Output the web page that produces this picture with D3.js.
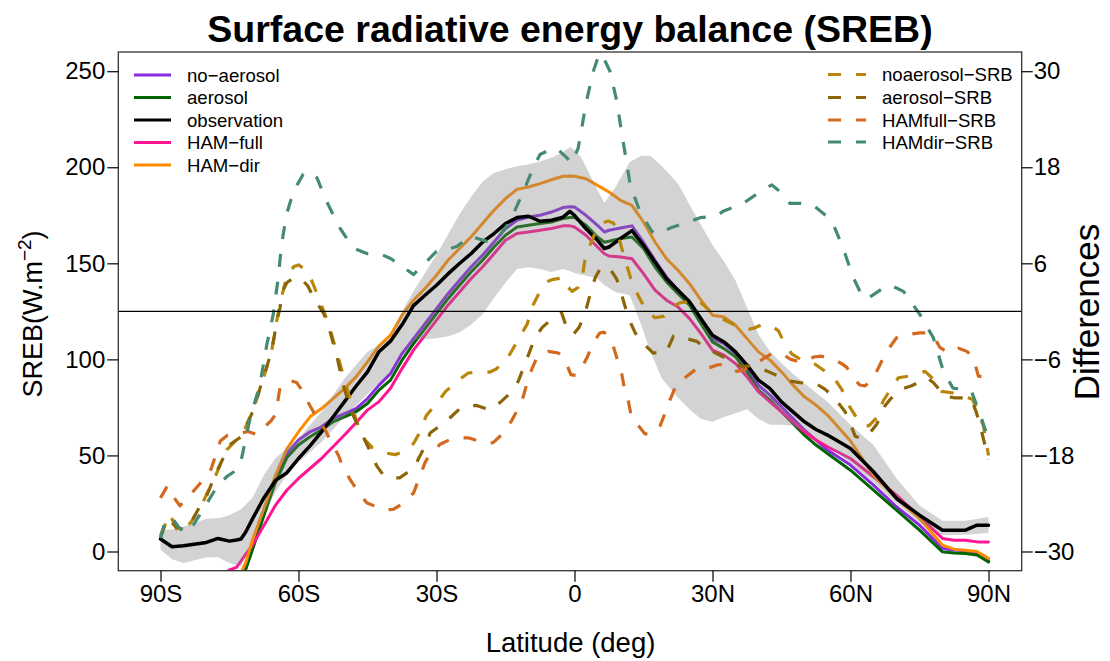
<!DOCTYPE html>
<html><head><meta charset="utf-8">
<script src="https://cdn.jsdelivr.net/npm/d3@7"></script>
<style>html,body{margin:0;padding:0;background:#fff;}svg{display:block;}</style>
</head><body><svg id="c" width="1110" height="661"></svg>
<script>
// ---------------- DATA ----------------
const xTickValues = [-90,-60,-30,0,30,60,90];
const xTickLabels = ["90S","60S","30S","0","30N","60N","90N"];
const yLeftTicks = [0,50,100,150,200,250];
const yRightTicks = [-30,-18,-6,6,18,30];

const latS = [
 -90,-87.5,-85,-80,-77.5,-75,-73.5,-72.5,-71.5,-70,
 -67.5,-65,-62.5,-60,-57.5,-55,-52.5,-50,-47.5,-45,
 -42.5,-40,-37.5,-35,-32.5,-30,-27.5,-25,-22.5,-20,
 -17.5,-15,-12.5,-10,-7.5,-5,-2.5,-1,0,2.5,
 5,6.5,7.5,10,12.5,15,17.5,20,22.5,25,
 27.5,30,32.5,35,37.5,40,42.5,45,47.5,50,
 52.5,55,60,65,70,75,80,82.5,85,87.5,
 90];

const noAerosol = [
 -50,-50,-45,-35,-30,-22,-16,-13,-9,1.6,
 19.8,37,51,58,62.3,64.9,69.2,71.8,74.4,79.6,
 86.6,92.6,103,110.8,118.6,126.4,134.2,141.2,148.1,154.2,
 161.1,168,172.4,174.1,175,176.7,179,179.5,179.3,175,
 169.8,166.3,167.2,168.4,169.5,161,151.6,142.9,136,129,
 119.5,110.8,108.2,103,95.2,86.6,81.4,75.3,69.2,63.2,
 58,52.8,45,34.5,23.3,13.7,1.6,0.8,0.4,-0.5,
 -4.5];
const aerosol = [
 -50,-50,-45,-35,-30,-22,-16,-13,-9.5,1,
 19,36,49,55.4,59.7,63.2,67.5,70.1,72.7,77,
 84,89.2,99.6,108.2,116,123.8,131.6,138.6,145.5,151.6,
 158.5,164.6,168.9,169.8,170.7,171.5,173.3,173.8,173.8,169.8,
 163.7,161,161.5,162.9,163.7,157.7,148.1,140.3,134.2,128.2,
 118.6,109.1,105.6,101.3,93.5,84,78.8,72.7,66.6,60.6,
 55.4,51,42.3,32,21.5,11.1,-0.2,-0.8,-1,-1.8,
 -5.4];
const observation = [
 6.5,2.5,3,4.7,6.8,5.4,6,6.5,10,17,
 28,37,41,48.4,55,62.3,70,78,86,93.5,
 104,109.5,118,128,133.4,138.6,144.5,149.9,155,161,
 165.5,170.7,173.8,174.5,171.9,172.4,174,177,175,168,
 162,157.7,158.5,162.9,167,159.4,150.7,142,136,130,
 121.2,112.6,109.1,103.9,97,89.2,84.8,77.9,72.7,67.5,
 63.5,60.6,53.6,41.5,27.6,18.9,11.1,11,11.1,13.7,
 13.7];
const hamFull = [
 -40,-38,-35,-25,-14,-9.6,-8.3,-5,-1.5,3.3,
 13.7,24.1,32,38,43.2,48.4,54.5,60.6,67,73.6,
 78,85,95.2,104.8,112.6,120.4,128.2,135.1,142,148.1,
 155,162,165.5,166.3,167.2,168.1,169.5,169.5,168.9,164.6,
 158.5,155,153.8,153.3,152.4,144.6,136,130.8,127.3,121.2,
 113.4,104.8,102.2,97.8,90.9,83.1,77.9,72.7,67.5,62.3,
 58,54.5,48.4,38.9,29.3,18,6.8,5.9,5.9,5,
 5];
const hamDir = [
 -50,-48,-45,-35,-28,-22,-16,-11,-6,6,
 22.4,39.7,53.6,62.3,70.1,74.4,79.6,84.8,90.9,98.7,
 107,112.6,123,130.8,136.9,143.8,151.6,157.7,163.7,170.7,
 177.6,183.7,188.5,189.7,191.5,193.5,195.3,195.5,195.3,194,
 190.6,188.5,187.1,182.8,180.2,171.5,161.1,152.4,146.4,139.4,
 130.8,123,122.1,117.8,110.8,103.9,99.6,93.5,86.6,80.5,
 76.2,71,57.5,39.7,27.6,17.2,3.3,1.2,0.7,0,
 -3.6];

// observational spread (grey band), [lat, SREB]
const bandUpper = [[-90,11],[-87.5,11.5],[-85,13],[-80,17],[-77,17.4],[-75,19],[-72.5,22],[-70,28],[-67.5,40],[-65,48.5],[-62.5,54],[-60,58.8],[-55,72.7],[-50,90],[-45,104],[-40,111],[-37.5,125],[-35,135.5],[-32.5,145],[-30,154.5],[-27.5,165],[-25,175.5],[-22.5,184.5],[-20,192.5],[-17.5,197],[-15,199],[-12.5,200.5],[-10,201.5],[-7.5,203],[-5,205],[-2.5,208],[-1,210.6],[0,209],[1.5,205],[3.5,195.5],[5,188],[6.5,181.5],[9,190],[12,202.7],[14.5,206],[16.5,206],[19,200.5],[22.5,191.5],[25,180.5],[27.5,170],[30,159.5],[32.5,151],[35,141],[37.5,127],[40,113],[42.5,104],[45,98],[47.5,92.5],[50,87.5],[55,77.9],[60,65.8],[65,55.4],[70,38],[75,24],[80,16],[85,16],[90,18]];
const bandLower = [[-90,1],[-87.5,-4],[-85,-6],[-80,-3],[-77.5,-3],[-75,-6],[-72.5,-8],[-70,7],[-67.5,20],[-65,31],[-62.5,40],[-60,46.5],[-55,57],[-50,70],[-45,82],[-40,93.5],[-37.5,103],[-35,110],[-32.5,110.5],[-30,111],[-27.5,112],[-25,114],[-22.5,118],[-20,123.5],[-17.5,132],[-15,140],[-12.5,147],[-10,148],[-7.5,147],[-5,145.5],[-2.5,147],[-1,146],[0,145],[1.5,144],[3.5,143],[5,142],[6.5,138.6],[9,135],[12,133.4],[14.5,118],[16.5,104],[19,90],[22.5,80],[25,74],[27.5,69],[30,67.5],[32.5,70],[35,72],[37.5,74],[40,69],[42.5,66],[45,66],[47.5,65.5],[50,63],[55,55],[60,46],[65,36],[70,25],[75,15],[80,8.5],[85,8.7],[90,9.6]];

// differences (right axis), [lat, difference]
const noaerosolSRB = [[-90,-28],[-88,-25.3],[-86.5,-27.2],[-85,-27.5],[-83.2,-26.2],[-80.5,-23.5],[-78,-20.5],[-75.6,-17.3],[-72,-15.2],[-69.5,-11.7],[-67.6,-8.3],[-65.8,-4.8],[-64.7,-1.1],[-63.8,1.5],[-62.5,4.5],[-61,5.6],[-60,5.8],[-58.5,5.2],[-57.3,4.1],[-55.5,1.5],[-53.5,-1.5],[-51.5,-5.5],[-49.5,-9.5],[-47.5,-13.5],[-46,-15.8],[-44,-17],[-41,-17.7],[-39,-17.9],[-37,-17.5],[-35,-16.5],[-34,-15.5],[-32.2,-13],[-30,-11.5],[-28,-10],[-25.5,-8.7],[-23.1,-7.7],[-20.5,-7.6],[-18.5,-7.6],[-17,-7.2],[-14.5,-5.8],[-13.5,-4.8],[-11.5,-2.8],[-10.3,-1.6],[-9,0.8],[-7.5,2.5],[-6,3.7],[-4.6,4],[-2.4,4.2],[-1.7,3.2],[-0.5,2.5],[0.8,3],[1.6,4],[2.3,6.5],[3,7.75],[4.5,9.8],[5.5,10.9],[7.3,11.3],[8.5,11],[9.5,9.5],[10.6,7.2],[11.5,5.5],[12.5,3.6],[14,1.8],[15.5,0.2],[17.5,-0.8],[19.5,-0.6],[21,0.5],[23,1.1],[25,1.2],[26.5,1.5],[28,0.8],[29.5,0],[31,-0.6],[33.4,-1.3],[35.6,-1.9],[37.5,-2.3],[39,-2.1],[41,-1.6],[43,-1.9],[44.3,-2.4],[45.4,-3.7],[47.2,-5.3],[49.7,-6.2],[52.3,-6.6],[54.5,-7.5],[56.6,-8.5],[58.1,-9.75],[59.7,-11.8],[61,-13],[62.5,-14.2],[64,-14.3],[65.7,-13.3],[67.1,-11.2],[68.2,-10.2],[70.4,-8.3],[72.6,-8.1],[74.5,-7.8],[76.2,-7.5],[77.7,-8.3],[79.8,-10],[82.3,-10.2],[84.5,-10.5],[86.5,-11],[87.8,-12.7],[88.9,-14.3],[90,-18]];
const aerosolSRB = [[-90,-28.3],[-88.5,-25.8],[-86.5,-27],[-84.7,-27.3],[-83.2,-26.2],[-81,-23.9],[-80,-23.1],[-78.5,-21],[-77.8,-20],[-76,-17.9],[-75.3,-16.8],[-72.3,-15.6],[-71.3,-14.3],[-69.8,-12.3],[-69.1,-11],[-68,-8.9],[-67.3,-7.7],[-66.2,-5.6],[-65.5,-3.9],[-64.7,-1.2],[-64,0.5],[-63.5,2.5],[-62.5,3.6],[-61,4.2],[-59.5,4.1],[-58,3.2],[-56.5,1.5],[-54.5,-0.3],[-53,-2.8],[-51.5,-6],[-50.3,-9.2],[-48.5,-12.5],[-46.5,-15],[-44,-18],[-43,-19.3],[-41.5,-20.5],[-40,-20.8],[-38,-20.8],[-36.5,-20.2],[-34.7,-19.5],[-34,-18.5],[-32.1,-16.4],[-31.4,-15.2],[-29.5,-14.4],[-28.2,-13.9],[-26.7,-13.1],[-25,-12.2],[-23.4,-11.8],[-21.3,-11.75],[-19.5,-12.1],[-18,-12.25],[-16.2,-11.4],[-14.5,-10.5],[-13.3,-9.75],[-12.2,-8.7],[-10.8,-6.6],[-10,-5.4],[-8.6,-3.3],[-7,-2],[-5,-1],[-2.8,-0.2],[-1.7,-2],[-0.3,-2.9],[1,-2],[1.6,-1.2],[2.3,-0.2],[3.7,2.75],[4.5,4.2],[5.5,5.25],[7.3,5.6],[8.3,4.8],[9.2,4],[9.9,2.75],[11,0.6],[11.7,-0.8],[13.2,-2.7],[14.6,-3.75],[16,-4.6],[17.1,-5.2],[19.7,-5.2],[20.5,-4.4],[21.5,-3.1],[23.3,-3.5],[25,-3.5],[26.6,-3.75],[28.4,-4.6],[30,-5],[31.3,-5.4],[33.4,-6],[35,-6.5],[36.3,-6.9],[38.2,-6.8],[40,-7],[42,-7.5],[44,-8],[46.8,-8.7],[49,-8.9],[51,-9],[52.7,-9.1],[54.5,-9.75],[56,-10.5],[57.3,-11.4],[58.8,-12.5],[60.3,-14.5],[61,-15.6],[62.5,-15.9],[64.2,-15.2],[65.7,-14.1],[67.5,-11.8],[68.6,-11],[70.8,-9.75],[73.3,-9.3],[75,-8.8],[76.6,-8.3],[78,-8.9],[80.5,-10.6],[82.7,-10.8],[84.5,-10.8],[86.3,-11],[87.4,-12.7],[88.5,-15],[90,-18.5]];
const hamfullSRB = [[-90,-23.3],[-88.5,-21.8],[-87,-23.3],[-85.8,-24.3],[-84.5,-23.5],[-83.2,-22.7],[-81.4,-21.5],[-79,-19.7],[-77,-16.2],[-75.5,-15.5],[-73,-15.3],[-71,-15],[-69,-15.4],[-67.5,-14.5],[-66,-13.7],[-65,-12.9],[-64,-9.5],[-62,-8.6],[-60.4,-8.9],[-59.3,-9.8],[-57.5,-11.8],[-56.4,-12.9],[-54.2,-14.8],[-53.2,-16],[-51.3,-18],[-50.6,-19.1],[-48.8,-21],[-47.3,-22.3],[-45.2,-23.9],[-42.7,-24.5],[-41,-24.8],[-39.4,-24.75],[-37.6,-24.1],[-35,-22.7],[-34,-21.2],[-32.5,-18.9],[-31.6,-18],[-29.2,-16.6],[-27,-16],[-25,-15.8],[-23.1,-15.8],[-20.9,-16.2],[-19,-16.5],[-17.7,-16.4],[-15.8,-15.4],[-13.7,-13.7],[-12.6,-12.5],[-11.1,-10.6],[-10.4,-9.1],[-9.3,-7.25],[-8.2,-5.8],[-7,-5.2],[-5.7,-5],[-3.5,-5.2],[-2.5,-5.8],[-1.7,-6.6],[-0.8,-7.9],[0.3,-8],[1.6,-7],[2.7,-5.8],[4.1,-3.9],[5.5,-2.7],[6.4,-2.6],[7.3,-3.1],[8.4,-4.3],[9.5,-6.4],[10.3,-7.9],[10.9,-9.8],[11.7,-11.2],[12.4,-13.3],[13.9,-14.3],[15.3,-15.3],[16.8,-15.3],[18.6,-14.3],[20,-12.25],[20.8,-11],[22.2,-9.1],[24,-8.3],[26.9,-7],[29.5,-7],[31,-6.7],[32.7,-6.6],[35.3,-7.5],[37,-7.3],[38.2,-6.8],[40.3,-6.2],[42.5,-5.4],[44.3,-5.2],[45.4,-5.4],[47,-6],[48.3,-6.2],[50.5,-6.2],[52,-5.7],[53.7,-5.6],[56.3,-6],[58,-6.5],[59.2,-7],[60.6,-8.3],[62,-9.2],[63.2,-9.3],[65,-8.3],[66.8,-6.2],[67.9,-5],[70,-3.3],[72.2,-2.9],[75.1,-2.7],[77.3,-2.7],[78.5,-3.5],[79.4,-4.5],[81.3,-5.2],[83.5,-4.6],[85.3,-5],[86.7,-5.8],[87.8,-8.1],[90,-8.3]];
const hamdirSRB = [[-90,-28.3],[-89,-26.2],[-87.5,-25.8],[-86,-27],[-84.7,-27.7],[-82.9,-26.7],[-81,-25],[-79.2,-23.3],[-77.5,-21.7],[-75.5,-20.6],[-73.4,-19.8],[-72.5,-18.7],[-70.5,-13.3],[-68.4,-9.2],[-66.9,-4.2],[-65.5,-0.4],[-64.4,4.2],[-63.7,8.3],[-62.6,12.1],[-61.1,15],[-59,17.1],[-57.6,17.5],[-56,16.7],[-53.9,13.75],[-51,10.4],[-48.1,7.9],[-45,7.2],[-42.3,7.2],[-40,6.6],[-37.9,5.8],[-35,4.6],[-32.9,5.8],[-30,7.5],[-29,7.5],[-25.6,8.1],[-22.7,9.4],[-19.1,8.75],[-16.9,9],[-14,11.25],[-11.1,15],[-9,17.9],[-7.5,19.6],[-5.3,20.2],[-3.9,20.4],[-1.7,19.2],[-0.6,18.5],[0.8,20.4],[2.6,26.25],[4.1,30],[5.2,31.9],[5.9,32.2],[7.7,30],[9.2,26.25],[10.3,22.1],[11.3,18.75],[12.1,15.8],[14.2,12.5],[16.8,10],[17.9,9.6],[20.8,10.4],[25.1,11.25],[27.3,11.7],[30.9,11.9],[32.3,12.5],[36.7,13.5],[41,15.2],[42.9,15.8],[45.4,14.6],[46.8,13.5],[49,13.5],[51.9,13.25],[54.8,11.9],[56.3,10.8],[58.4,7.9],[60.6,4.2],[62.4,2.1],[63.5,1.5],[67.1,2.9],[68.6,3.3],[71.5,2.5],[75.1,-0.4],[78,-3.3],[80.2,-7.5],[82.3,-9.6],[85.3,-9.8],[86.3,-10],[88.2,-12.9],[90,-16]];

const solidNames = ["no−aerosol","aerosol","observation","HAM−full","HAM−dir"];
const solidColors = ["#8A2BE2","#006400","#000000","#FF1493","#FF8C00"];
const dashNames = ["noaerosol−SRB","aerosol−SRB","HAMfull−SRB","HAMdir−SRB"];
const dashColors = ["#B8860B","#8B6508","#D2691E","#458B74"];

// ---------------- DRAW ----------------
const FONT = "'Liberation Sans', Arial, Helvetica, sans-serif";
const box = {l:118.3, r:1021.7, t:52, b:570.7};
const x = d3.scaleLinear().domain([-90,90]).range([160.5,988.5]);
const yL = d3.scaleLinear().domain([-10,260]).range([box.b, box.t]);
const yR = d3.scaleLinear().domain([-32.4,32.4]).range([box.b, box.t]);

const svg = d3.select("#c").attr("font-family", FONT);
svg.append("rect").attr("width",1110).attr("height",661).attr("fill","#fff");
svg.append("defs").append("clipPath").attr("id","clip")
  .append("rect").attr("x",box.l).attr("y",box.t).attr("width",box.r-box.l).attr("height",box.b-box.t);
const plot = svg.append("g").attr("clip-path","url(#clip)");

const lineL = d3.line().x(d=>x(d[0])).y(d=>yL(d[1]));
const lineR = d3.line().x(d=>x(d[0])).y(d=>yR(d[1]));

const solidSeries = [noAerosol, aerosol, observation, hamFull, hamDir];
function drawSolid(i){
  plot.append("path").datum(latS.map((l,k)=>[l, solidSeries[i][k]]))
    .attr("d", lineL).attr("fill","none").attr("stroke", solidColors[i])
    .attr("stroke-width", i===2?3.5:3).attr("stroke-linejoin","round").attr("stroke-linecap","round");
}
[0,1,3,4].forEach(drawSolid);

// grey band (semi-transparent, over the model lines)
const bandPts = bandUpper.concat(bandLower.slice().reverse());
plot.append("path").attr("d", lineL(bandPts)+"Z")
  .attr("fill","rgb(128,128,128)").attr("fill-opacity",0.35).attr("stroke","none");

drawSolid(2); // observation on top of the band

const dashSeries = [noaerosolSRB, aerosolSRB, hamfullSRB, hamdirSRB];
dashSeries.forEach((s,i)=>{
  plot.append("path").datum(s).attr("d", lineR).attr("fill","none")
    .attr("stroke", dashColors[i]).attr("stroke-width",3.2)
    .attr("stroke-dasharray","13,15").attr("stroke-linejoin","round");
});

// zero line of differences
svg.append("line").attr("x1",box.l).attr("x2",box.r).attr("y1",yR(0)).attr("y2",yR(0))
  .attr("stroke","#000").attr("stroke-width",1.2);

// box
svg.append("rect").attr("x",box.l).attr("y",box.t).attr("width",box.r-box.l).attr("height",box.b-box.t)
  .attr("fill","none").attr("stroke","#333").attr("stroke-width",1.3);

// axes
function styleAxis(g){
  g.select(".domain").remove();
  g.attr("font-size",24).attr("font-family",FONT);
  g.selectAll(".tick line").attr("stroke","#000").attr("stroke-width",1.2);
  g.selectAll(".tick text").attr("fill","#000");
}
const gL = svg.append("g").attr("transform",`translate(${box.l},0)`)
  .call(d3.axisLeft(yL).tickValues(yLeftTicks).tickSize(11).tickPadding(2).tickFormat(d3.format("d")));
styleAxis(gL);
const gR = svg.append("g").attr("transform",`translate(${box.r},0)`)
  .call(d3.axisRight(yR).tickValues(yRightTicks).tickSize(11).tickPadding(1).tickFormat(d3.format("d")));
styleAxis(gR);
const gB = svg.append("g").attr("transform",`translate(0,${box.b})`)
  .call(d3.axisBottom(x).tickValues(xTickValues).tickSize(11).tickPadding(3).tickFormat((d,i)=>xTickLabels[i]));
styleAxis(gB);

// titles
svg.append("text").attr("x",570).attr("y",42).attr("text-anchor","middle")
  .attr("font-size",37.5).attr("font-weight","bold").text("Surface radiative energy balance (SREB)");
svg.append("text").attr("x",570.5).attr("y",652).attr("text-anchor","middle")
  .attr("font-size",27.5).text("Latitude (deg)");
const yt = svg.append("text").attr("transform","translate(42,314) rotate(-90)")
  .attr("text-anchor","middle").attr("font-size",27);
yt.append("tspan").text("SREB(W.m");
yt.append("tspan").attr("font-size",19).attr("dy",-11).text("−2");
yt.append("tspan").attr("dy",11).text(")");
svg.append("text").attr("transform","translate(1099,312) rotate(-90)")
  .attr("text-anchor","middle").attr("font-size",35).text("Differences");

// legends
const legL = svg.append("g").attr("font-size",18.6);
const legLY = [75,97.5,120,142.5,165];
solidNames.forEach((n,i)=>{
  legL.append("line").attr("x1",134).attr("x2",171).attr("y1",legLY[i]).attr("y2",legLY[i])
    .attr("stroke",solidColors[i]).attr("stroke-width",3.2);
  legL.append("text").attr("x",187).attr("y",legLY[i]).attr("dy","0.35em").text(n);
});
const legR = svg.append("g").attr("font-size",18.6);
const legRY = [74.5,97.5,120,142];
dashNames.forEach((n,i)=>{
  legR.append("line").attr("x1",828).attr("x2",866).attr("y1",legRY[i]).attr("y2",legRY[i])
    .attr("stroke",dashColors[i]).attr("stroke-width",3.2).attr("stroke-dasharray","13,15");
  legR.append("text").attr("x",882).attr("y",legRY[i]).attr("dy","0.35em").text(n);
});
</script>
</body></html>
